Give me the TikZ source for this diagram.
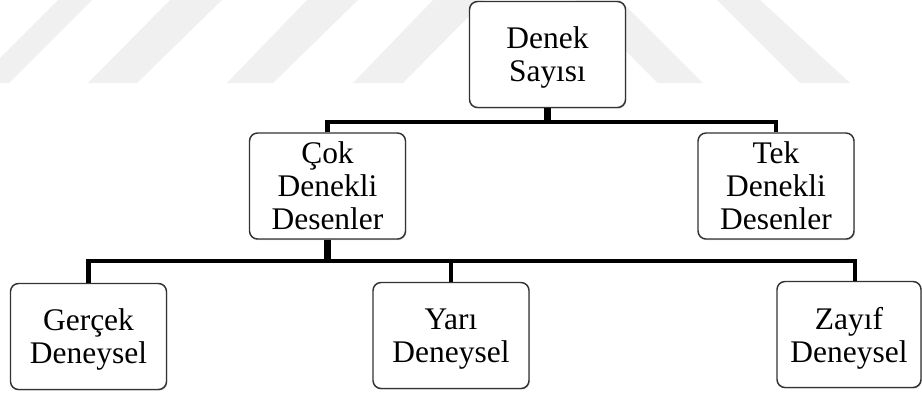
\documentclass[tikz,border=0pt]{standalone}
\usepackage{fontspec}
\setmainfont{Liberation Serif}
\usetikzlibrary{shadows,calc}
\begin{document}
\begin{tikzpicture}[x=0.75pt,y=-0.75pt,
  box/.style={draw=black!80, line width=1.1pt, rounded corners=6pt, fill=white,
    minimum width=117pt, minimum height=79.5pt, align=center, inner sep=0pt,
    text depth=0pt,
    font=\fontsize{23.6}{24.75}\selectfont,
    drop shadow={shadow xshift=0.6pt, shadow yshift=-0.8pt, opacity=0.3, fill=black!60}},
  bus/.style={line width=3.2pt, black},
  drop/.style={line width=3pt, black},
  stem/.style={line width=4.8pt, black},
  stripe/.style={fill=black!6, draw=none}
]
% page and background
\fill[white] (0,0) rectangle (922,394);
\useasboundingbox (0,0) rectangle (922,394);

% faint watermark stripes
\fill[stripe] (58,0) -- (92,0) -- (9,83) -- (-25,83) -- cycle;
\fill[stripe] (170,0) -- (222,0) -- (137,83) -- (88,83) -- cycle;
\fill[stripe] (307,0) -- (358,0) -- (273,83) -- (227,83) -- cycle;
\fill[stripe] (433,0) -- (485,0) -- (403,83) -- (353,83) -- cycle;
\fill[stripe] (575,0) -- (620,0) -- (703,83) -- (658,83) -- cycle;
\fill[stripe] (717,0) -- (760,0) -- (850,83) -- (800,83) -- cycle;

% boxes
\node[box] (denek)  at (547.5,54.5) {Denek\\Sayısı};
\node[box] (cok)    at (327.5,186)  {Çok\\Denekli\\Desenler};
\node[box] (tek)    at (776,186)    {Tek\\Denekli\\Desenler};
\node[box] (gercek) at (88.5,336.5) {Gerçek\\Deneysel};
\node[box] (yari)   at (451,335.5)  {Yarı\\Deneysel};
\node[box, minimum width=108pt] (zayif) at (849,334.5) {Zayıf\\Deneysel};

% bus levels
\coordinate (busA) at (0,122);
\coordinate (busB) at (0,261);
\coordinate (zdrop) at ($(zayif.north)+(6,0)$);

% connectors
\draw[stem] (denek.south) -- (denek.south |- busA);
\draw[bus] (cok.north) -- (cok.north |- busA) -- (tek.north |- busA) -- (tek.north);
\draw[stem] (cok.south) -- (cok.south |- busB);
\draw[bus] (gercek.north) -- (gercek.north |- busB) -- (zdrop |- busB) -- (zdrop);
\draw[drop] (yari.north) -- (yari.north |- busB);
\end{tikzpicture}
\end{document}
